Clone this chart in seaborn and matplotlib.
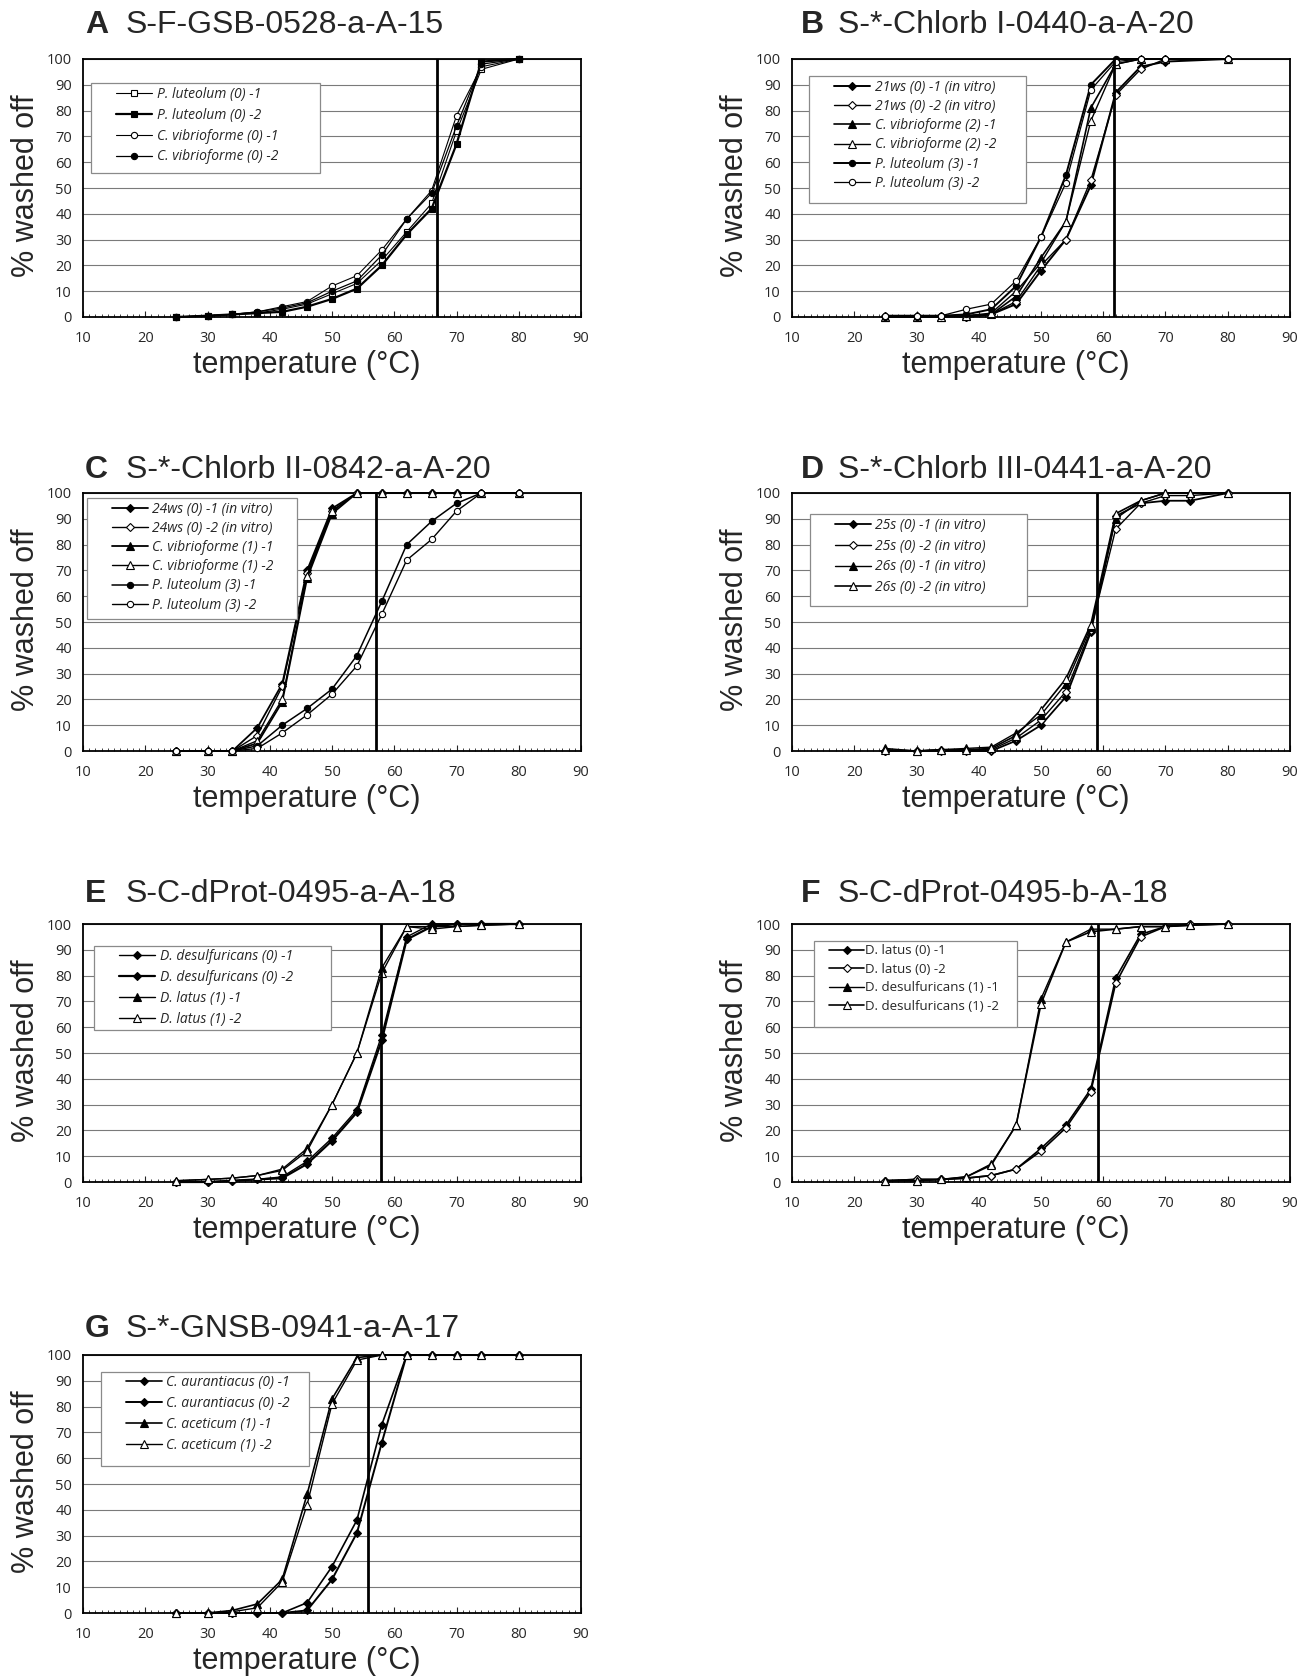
import numpy as np
import pandas as pd
import seaborn as sns
import matplotlib
matplotlib.use("Agg")
from matplotlib import pyplot as plt
from matplotlib.patches import Rectangle
from matplotlib.ticker import MultipleLocator

sns.set_style("white")
plt.rcParams['font.family'] = ['Liberation Sans', 'DejaVu Sans']

# ------- donnees ---------------------------------

temp = [25, 30, 34, 38, 42, 46, 50, 54, 58, 62, 66, 70, 74, 80]
temp_b = [25, 30, 34, 38, 42, 46, 50, 54, 58, 62, 66, 70, 80]

# A  S-F-GSB-0528-a-A-15
a_plut1 = [0, 0.5, 1, 1.5, 3, 5, 9, 13, 22, 33, 44, 72, 96, 100]
a_plut2 = [0, 0.5, 1, 1.5, 2, 4, 7, 11, 20, 32, 42, 67, 99, 100]
a_cvib1 = [0, 0.5, 1, 2, 4, 6, 12, 16, 26, 38, 49, 78, 97, 100]
a_cvib2 = [0, 0.5, 1, 2, 3.5, 5.5, 10, 14, 24, 38, 48, 74, 98, 100]

# B  S-*-Chlorb I-0440-a-A-20
b_21ws1 = [0.5, 0.5, 0.5, 0, 1, 5, 18, 30, 51, 87, 97, 99, 100]
b_21ws2 = [0.5, 0.5, 0.5, 0, 1, 6, 20, 30, 53, 86, 96, 100, 100]
b_cvib1 = [0, 0, 0, 0.5, 1, 8, 23, 37, 81, 98, 100, 100, 100]
b_cvib2 = [0, 0, 0, 0.5, 1.5, 10, 21, 37, 76, 98, 100, 100, 100]
b_plut1 = [0, 0, 0.5, 1, 3, 12, 31, 55, 90, 100, 100, 100, 100]
b_plut2 = [0.5, 0.5, 0.5, 3, 5, 14, 31, 52, 88, 99, 100, 100, 100]

# C  S-*-Chlorb II-0842-a-A-20
c_24ws1 = [0, 0, 0, 9, 26, 70, 94, 100, 100, 100, 100, 100, 100, 100]
c_24ws2 = [0, 0, 0, 6, 25, 69, 93, 100, 100, 100, 100, 100, 100, 100]
c_cvib1 = [0, 0, 0, 3, 19, 67, 92, 100, 100, 100, 100, 100, 100, 100]
c_cvib2 = [0, 0, 0, 4, 20, 68, 93, 100, 100, 100, 100, 100, 100, 100]
c_plut1 = [0, 0, 0, 2, 10, 16.5, 24, 37, 58, 80, 89, 96, 100, 100]
c_plut2 = [0, 0, 0, 1, 7, 14, 22, 33, 53, 74, 82, 93, 100, 100]

# D  S-*-Chlorb III-0441-a-A-20
d_25s1 = [0, 0, 0, 0, 0, 4, 10, 21, 46, 91, 96, 97, 97, 100]
d_25s2 = [0, 0, 0.5, 0.5, 0.5, 5, 12, 23, 47, 86, 96, 99, 99, 100]
d_26s1 = [1, 0, 0.5, 1, 1.5, 7, 14, 26, 48, 90, 97, 100, 100, 100]
d_26s2 = [0.5, 0, 0.5, 0.5, 1, 6, 16, 28, 49, 92, 97, 100, 100, 100]

# E  S-C-dProt-0495-a-A-18
e_ddes1 = [0, 0, 0.5, 1, 2, 8, 17, 28, 57, 95, 100, 100, 100, 100]
e_ddes2 = [0, 0, 0.5, 1, 1.5, 7, 16, 27, 55, 94, 99, 100, 100, 100]
e_dlat1 = [0.5, 1, 1.5, 2.5, 5, 13, 30, 50, 83, 99, 99, 99, 99.5, 100]
e_dlat2 = [0.5, 1, 1.5, 2.5, 4.5, 12, 30, 50, 81, 99, 98, 99, 99.5, 100]

# F  S-C-dProt-0495-b-A-18
f_dlat1 = [0.5, 1, 1, 1.5, 2.5, 5, 13, 22, 36, 79, 96, 99, 100, 100]
f_dlat2 = [0.5, 1, 1, 1.5, 2.5, 5, 12, 21, 35, 77, 95, 99, 100, 100]
f_ddes1 = [0.5, 0.5, 1, 2, 7, 22, 71, 93, 98, 98, 99, 99, 99.5, 100]
f_ddes2 = [0.5, 0.5, 1, 2, 6.5, 22, 69, 93, 97, 98, 99, 99, 99.5, 100]

# G  S-*-GNSB-0941-a-A-17
g_caur1 = [0, 0, 0, 0, 0, 4, 18, 36, 73, 100, 100, 100, 100, 100]
g_caur2 = [0, 0, 0, 0, 0, 1, 13, 31, 66, 100, 100, 100, 100, 100]
g_cace1 = [0, 0, 1, 3.5, 13, 46, 83, 99, 100, 100, 100, 100, 100, 100]
g_cace2 = [0, 0, 0.5, 2, 12, 42, 81, 98, 100, 100, 100, 100, 100, 100]

td = {'A': 66.8, 'B': 61.8, 'C': 57.1, 'D': 59.0, 'E': 57.8, 'F': 59.2, 'G': 55.8}

x_ticks = [10, 20, 30, 40, 50, 60, 70, 80, 90]
y_ticks = [0, 10, 20, 30, 40, 50, 60, 70, 80, 90, 100]

# (label, valeurs, marqueur, plein, epaisseur)
panneaux = [
    ('A', 'S-F-GSB-0528-a-A-15', temp, True, (0.017, 0.475, 0.906, 0.56), [
        ('P. luteolum (0) -1', a_plut1, 's', False, 0.8),
        ('P. luteolum (0) -2', a_plut2, 's', True, 1.6),
        ('C. vibrioforme (0) -1', a_cvib1, 'o', False, 0.8),
        ('C. vibrioforme (0) -2', a_cvib2, 'o', True, 0.9)]),
    ('B', 'S-*-Chlorb I-0440-a-A-20', temp_b, True, (0.035, 0.47, 0.933, 0.443), [
        ('21ws (0) -1 (in vitro)', b_21ws1, 'D', True, 1.4),
        ('21ws (0) -2 (in vitro)', b_21ws2, 'D', False, 1.0),
        ('C. vibrioforme (2) -1', b_cvib1, '^', True, 1.2),
        ('C. vibrioforme (2) -2', b_cvib2, '^', False, 1.0),
        ('P. luteolum (3) -1', b_plut1, 'o', True, 1.4),
        ('P. luteolum (3) -2', b_plut2, 'o', False, 0.9)]),
    ('C', 'S-*-Chlorb II-0842-a-A-20', temp, True, (0.008, 0.43, 0.98, 0.513), [
        ('24ws (0) -1 (in vitro)', c_24ws1, 'D', True, 1.3),
        ('24ws (0) -2 (in vitro)', c_24ws2, 'D', False, 1.0),
        ('C. vibrioforme (1) -1', c_cvib1, '^', True, 1.3),
        ('C. vibrioforme (1) -2', c_cvib2, '^', False, 1.0),
        ('P. luteolum (3) -1', c_plut1, 'o', True, 1.1),
        ('P. luteolum (3) -2', c_plut2, 'o', False, 1.0)]),
    ('D', 'S-*-Chlorb III-0441-a-A-20', temp, True, (0.036, 0.471, 0.918, 0.563), [
        ('25s (0) -1 (in vitro)', d_25s1, 'D', True, 1.3),
        ('25s (0) -2 (in vitro)', d_25s2, 'D', False, 1.0),
        ('26s (0) -1 (in vitro)', d_26s1, '^', True, 1.0),
        ('26s (0) -2 (in vitro)', d_26s2, '^', False, 1.2)]),
    ('E', 'S-C-dProt-0495-a-A-18', temp, True, (0.023, 0.497, 0.916, 0.59), [
        ('D. desulfuricans (0) -1', e_ddes1, 'D', True, 1.0),
        ('D. desulfuricans (0) -2', e_ddes2, 'D', True, 1.6),
        ('D. latus (1) -1', e_dlat1, '^', True, 1.0),
        ('D. latus (1) -2', e_dlat2, '^', False, 1.0)]),
    ('F', 'S-C-dProt-0495-b-A-18', temp, False, (0.045, 0.452, 0.936, 0.6), [
        ('D. latus (0) -1', f_dlat1, 'D', True, 1.2),
        ('D. latus (0) -2', f_dlat2, 'D', False, 1.2),
        ('D. desulfuricans (1) -1', f_ddes1, '^', True, 1.0),
        ('D. desulfuricans (1) -2', f_ddes2, '^', False, 1.2)]),
    ('G', 'S-*-GNSB-0941-a-A-17', temp, True, (0.036, 0.453, 0.936, 0.569), [
        ('C. aurantiacus (0) -1', g_caur1, 'D', True, 1.2),
        ('C. aurantiacus (0) -2', g_caur2, 'D', True, 1.4),
        ('C. aceticum (1) -1', g_cace1, '^', True, 1.2),
        ('C. aceticum (1) -2', g_cace2, '^', False, 1.0)]),
]

taille_marqueur = {'s': 5.0, 'o': 4.5, 'D': 4.5, '^': 5.4}

# --------------------------------

fig = plt.figure(figsize=(13.09, 16.76), dpi=100)

gauche = [83 / 1309, 792 / 1309]
bas = [1 - 317 / 1676, 1 - 751 / 1676, 1 - 1182 / 1676, 1 - 1613 / 1676]
largeur = 498 / 1309
hauteur = 258 / 1676
lettre_x = [0.004, 0.018]
titre_x = [0.086, 0.092]
titre_y = [1.10, 1.057, 1.085, 1.07]

for i, (lettre, sonde, temps, italique, boite, series) in enumerate(panneaux):
    col = i % 2
    ligne = i // 2
    ax = fig.add_axes([gauche[col], bas[ligne], largeur, hauteur])

    for label, valeurs, mk, plein, lw in series:
        df = pd.DataFrame({'temperature': temps, 'washed': valeurs})
        sns.lineplot(data=df, x='temperature', y='washed', ax=ax, color='k',
                     marker=mk, markersize=taille_marqueur[mk],
                     markerfacecolor='k' if plein else 'white',
                     markeredgecolor='k', markeredgewidth=0.8,
                     linewidth=lw, label=label, legend=False,
                     errorbar=None, clip_on=False, zorder=3)

    ax.axvline(td[lettre], color='k', lw=2.0, zorder=4)

    ax.set_xlim(10, 90)
    ax.set_ylim(0, 100)
    ax.set_xticks(x_ticks)
    ax.set_yticks(y_ticks)
    ax.xaxis.set_minor_locator(MultipleLocator(1))
    ax.yaxis.grid(True, color='#7a7a7a', lw=0.8)
    ax.xaxis.grid(False)
    ax.set_axisbelow(True)
    for sp in ax.spines.values():
        sp.set_color('k')
        sp.set_linewidth(1.3)

    ax.tick_params(axis='x', which='major', direction='in', length=4, width=0.8,
                   bottom=True, pad=10, labelsize=10.5)
    ax.tick_params(axis='x', which='minor', direction='in', length=2.5, width=0.6,
                   bottom=True)
    ax.tick_params(axis='y', which='both', length=0, pad=8, labelsize=10.5)
    for t in ax.get_xticklabels() + ax.get_yticklabels():
        t.set_family(['Open Sans', 'DejaVu Sans'])

    ax.set_xlabel('temperature (°C)', fontsize=22)
    ax.set_ylabel('% washed off', fontsize=22)
    ax.xaxis.set_label_coords(0.45, -0.127)
    ax.yaxis.set_label_coords(-0.084, 0.51)

    ax.text(lettre_x[col], titre_y[ligne], lettre, transform=ax.transAxes, fontsize=23,
            fontweight='bold', va='baseline', ha='left')
    ax.text(titre_x[col], titre_y[ligne], sonde, transform=ax.transAxes, fontsize=23,
            va='baseline', ha='left')

    # cadre de legende facon Excel
    x0, x1, haut, bas_l = boite
    ax.add_patch(Rectangle((x0, bas_l), x1 - x0, haut - bas_l, transform=ax.transAxes,
                           facecolor='white', edgecolor='#8a8a8a', lw=0.9, zorder=5,
                           clip_on=False))
    if italique:
        decal, pad_txt, taille = 0.05, 0.3, 10
    else:
        decal, pad_txt, taille = 0.03, 0.1, 9.5
    espace = 0.42 if len(series) == 4 else 0.3
    leg = ax.legend(loc='upper left', bbox_to_anchor=(x0 + decal, haut - 0.014),
                    frameon=False, handlelength=2.6, handletextpad=pad_txt,
                    labelspacing=espace, borderpad=0, borderaxespad=0,
                    prop={'family': ['Open Sans', 'DejaVu Sans'], 'size': taille,
                          'style': 'italic' if italique else 'normal'})
    leg.set_zorder(6)

plt.savefig('out.png', dpi=100)
